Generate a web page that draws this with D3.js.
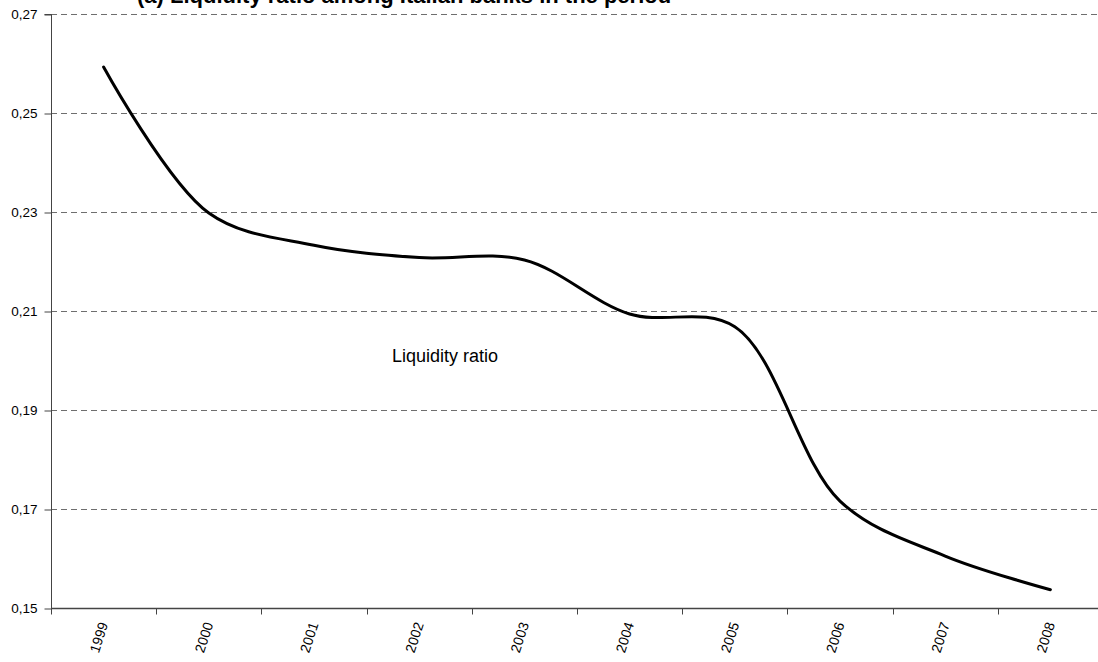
<!DOCTYPE html>
<html><head><meta charset="utf-8">
<script src="https://cdn.jsdelivr.net/npm/d3@7"></script>
<style>
html,body{margin:0;padding:0;background:#fff;}
svg{display:block;font-family:"Liberation Sans",Arial,sans-serif;}
</style></head>
<body><svg id="c" width="1098" height="662"></svg>
<script>
const years = ["1999","2000","2001","2002","2003","2004","2005","2006","2007","2008"];
const liquidity = [0.2593, 0.2298, 0.2233, 0.2208, 0.2203, 0.2094, 0.2068, 0.1716, 0.1605, 0.1537];
const yTicks = [0.15, 0.17, 0.19, 0.21, 0.23, 0.25, 0.27];
const yTickLabels = ["0,15","0,17","0,19","0,21","0,23","0,25","0,27"];
const seriesLabel = "Liquidity ratio";
const titleText = "(a) Liquidity ratio among Italian banks in the period";

const svg = d3.select("#c");
const L = 51, R = 1103, T = 14, B = 608;

const x = d3.scaleBand().domain(years).range([L, R]);
const y = d3.scaleLinear().domain([0.15, 0.27]).range([B, T]);

// title (cut off at top, as in the reference)
svg.append("text").attr("x", 137).attr("y", 3)
  .attr("font-size", 22).attr("font-weight", "bold").text(titleText);

// gridlines
svg.append("g").selectAll("line").data(yTicks.filter(d => d > 0.15)).join("line")
  .attr("x1", L).attr("x2", 1098)
  .attr("y1", d => Math.round(y(d)) + 0.5).attr("y2", d => Math.round(y(d)) + 0.5)
  .attr("stroke", "#6e6e6e").attr("stroke-width", 1).attr("stroke-dasharray", "6,4");

// y axis
const yAxis = d3.axisLeft(y).tickValues(yTicks).tickSize(7)
  .tickFormat((d, i) => yTickLabels[i]);
const gy = svg.append("g").attr("transform", `translate(${L + 0.5},0.5)`).call(yAxis);
gy.attr("font-size", 13.5).attr("font-family", "Liberation Sans, Arial, sans-serif");
gy.select(".domain").attr("stroke", "#444").attr("d", `M-7,${T}H0V${B}`);
gy.selectAll(".tick line").attr("stroke", "#444");
gy.selectAll(".tick text").attr("x", -14).attr("fill", "#000");

// x axis
const xAxis = d3.axisBottom(x).tickSize(0).tickFormat(d => d);
const gx = svg.append("g").attr("transform", `translate(0,${B + 0.5})`).call(xAxis);
gx.attr("font-size", 14).attr("font-family", "Liberation Sans, Arial, sans-serif");
gx.select(".domain").attr("stroke", "#444").attr("stroke-width", 1.5).attr("d", `M${L},0H1098`);
gx.selectAll(".tick text").attr("fill", "#000")
  .attr("text-anchor", "end").attr("dy", "0.35em").attr("y", 0)
  .attr("transform", "translate(0,14) rotate(-72)");
// tick marks at category boundaries
const bounds = years.map(d => x(d)).concat([x(years[years.length - 1]) + x.bandwidth()]).filter(v => v <= 1098);
gx.selectAll("line.bt").data(bounds).join("line").attr("class", "bt")
  .attr("x1", d => Math.round(d) + 0.5).attr("x2", d => Math.round(d) + 0.5)
  .attr("y1", 0).attr("y2", 6).attr("stroke", "#444");

// line
const line = d3.line()
  .x((d, i) => x(years[i]) + x.bandwidth() / 2)
  .y(d => y(d))
  .curve(d3.curveCatmullRom.alpha(0.5));
svg.append("path").datum(liquidity).attr("d", line)
  .attr("fill", "none").attr("stroke", "#000").attr("stroke-width", 3)
  .attr("stroke-linecap", "round").attr("stroke-linejoin", "round");

// series label
svg.append("text").attr("x", 392).attr("y", 362).attr("font-size", 18).text(seriesLabel);
</script></body></html>
